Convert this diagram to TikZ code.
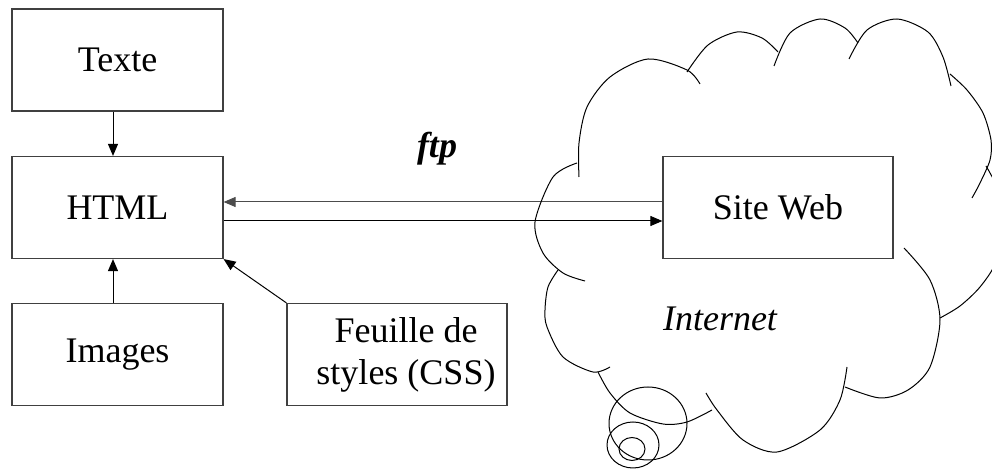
\documentclass[tikz,border=0pt]{standalone}
\usepackage{fontspec}
\setmainfont{Liberation Serif}
\usetikzlibrary{arrows.meta}
\begin{document}
\begin{tikzpicture}[x=0.5pt,y=-0.5pt,
	boite/.style={draw=black!75,line width=0.6pt,minimum width=105.5pt,minimum height=51pt,align=center,font=\fontsize{18}{21}\selectfont},
	fleche/.style={-{Triangle[length=6pt,width=5pt]},line width=0.5pt},
	nuage/.style={line width=0.5pt}]
		\useasboundingbox (0,0) rectangle (992,469);
		\clip (0,0) rectangle (992,469);
		\node[boite] (texte) at (117.5,60) {Texte};
		\node[boite] (html) at (117.5,207.5) {HTML};
		\node[boite] (images) at (117.5,354.5) {Images};
		\node[boite,minimum width=110pt] (css) at (397,354.5) {\hspace*{9pt}Feuille de\\\hspace*{9pt}styles (CSS)};
		\node[boite,minimum width=115pt] (site) at (778,207.5) {Site Web};
		\node[font=\fontsize{18}{21}\selectfont\bfseries\itshape] (ftp) at (437,149) {ftp};
		\node[font=\fontsize{18}{21}\selectfont\itshape] (internet) at (720,319) {Internet};
		\draw[fleche] ([xshift=-2.25pt]texte.south) -- ([xshift=-2.25pt]html.north);
		\draw[fleche] ([xshift=-2.25pt]images.north) -- ([xshift=-2.25pt]html.south);
		\draw[fleche] (css.north west) -- (html.south east);
		\draw[fleche,draw=black!70] ([yshift=2.75pt]site.west) -- ([yshift=2.75pt]html.east);
		\draw[fleche] ([yshift=-6.75pt]html.east) -- ([yshift=-6.75pt]site.west);
		\draw[nuage] plot[smooth] coordinates {(579,177) (579,143) (587,107) (610,77) (648,59) (687,70) (700,84)};
		\draw[nuage] plot[smooth] coordinates {(687,72) (708,45) (737,32) (762,38) (778,52)};
		\draw[nuage] plot[smooth] coordinates {(774,66) (790,33) (820,19) (845,28) (858,43)};
		\draw[nuage] plot[smooth] coordinates {(849,59) (867,30) (897,19) (928,32) (943,57) (951,86)};
		\draw[nuage] plot[smooth] coordinates {(950,74) (967,90) (983,113) (991,140) (990,160) (980,183) (972,198)};
		\draw[nuage] plot[smooth] coordinates {(986,166) (998,190) (1003,225) (996,262) (980,287) (960,306) (940,318)};
		\draw[nuage] plot[smooth] coordinates {(904,248) (930,280) (940,320) (930,367) (908,390) (880,398) (845,387)};
		\draw[nuage] plot[smooth] coordinates {(847,367) (840,400) (820,430) (777,452) (743,440) (717,410) (706,393)};
		\draw[nuage] plot[smooth] coordinates {(712,410) (687,422) (663,424) (630,413) (610,393) (598,372)};
		\draw[nuage] plot[smooth] coordinates {(610,367) (593,372) (563,357) (547,327) (545,310) (548,287) (558,270)};
		\draw[nuage] plot[smooth] coordinates {(577,163) (553,177) (535,222) (543,253) (563,273) (585,281)};
		\draw[nuage] (648,423.5) ellipse [x radius=19.5pt,y radius=18.25pt];
		\draw[nuage] (633,445) ellipse [x radius=13pt,y radius=11.5pt];
		\draw[nuage] (632,449) ellipse [x radius=6.5pt,y radius=5.75pt];
\end{tikzpicture}
\end{document}
